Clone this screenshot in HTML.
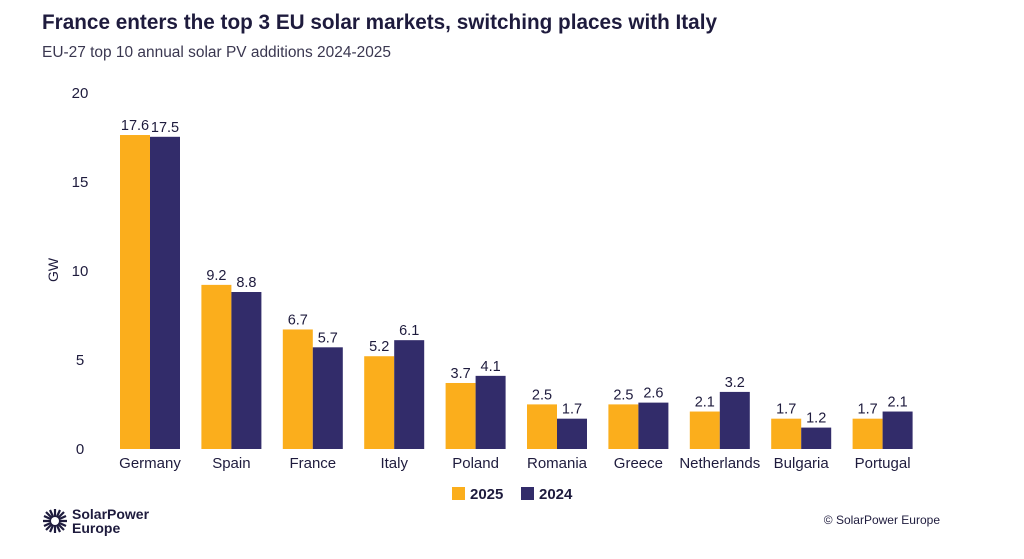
<!DOCTYPE html>
<html><head><meta charset="utf-8"><style>
body{margin:0;background:#fff;}
svg{display:block;font-family:"Liberation Sans",sans-serif;}
</style></head><body>
<svg width="1024" height="559" xmlns="http://www.w3.org/2000/svg">
<text x="42" y="29" font-size="21" font-weight="bold" fill="#1e1b3d" textLength="675" lengthAdjust="spacingAndGlyphs">France enters the top 3 EU solar markets, switching places with Italy</text>
<text x="42" y="57" font-size="15.3" fill="#3a3750" textLength="349" lengthAdjust="spacingAndGlyphs">EU-27 top 10 annual solar PV additions 2024-2025</text>
<g font-size="15" fill="#1e1b3d" text-anchor="middle">
<text x="80" y="98">20</text><text x="80" y="187">15</text><text x="80" y="276">10</text><text x="80" y="365">5</text><text x="80" y="454">0</text>
</g>
<text transform="translate(58,270) rotate(-90)" font-size="14" fill="#1e1b3d" text-anchor="middle">GW</text>
<g id="bars"></g>
<g font-size="14.5" fill="#1e1b3d" text-anchor="middle" id="lbl"></g>
<rect x="452" y="487" width="13" height="13" fill="#fbae1c"/>
<text x="470" y="499" font-size="15" font-weight="bold" fill="#1e1b3d">2025</text>
<rect x="521" y="487" width="13" height="13" fill="#322c6a"/>
<text x="539" y="499" font-size="15" font-weight="bold" fill="#1e1b3d">2024</text>
<g transform="translate(55,521)" stroke="#1e1b3d" stroke-width="2.2">
<line x1="-12" y1="0" x2="12" y2="0"/><line x1="0" y1="-12" x2="0" y2="12"/>
<line x1="-9" y1="-9" x2="9" y2="9"/><line x1="-9" y1="9" x2="9" y2="-9"/>
<line x1="-11" y1="-5" x2="11" y2="5"/><line x1="-11" y1="5" x2="11" y2="-5"/>
<line x1="-5" y1="-11" x2="5" y2="11"/><line x1="-5" y1="11" x2="5" y2="-11"/>
<circle cx="0" cy="0" r="4" fill="#fff" stroke="none"/>
</g>
<text x="72" y="519" font-size="14" font-weight="bold" fill="#1e1b3d">SolarPower</text>
<text x="72" y="533" font-size="14" font-weight="bold" fill="#1e1b3d">Europe</text>
<text x="940" y="524" font-size="12" fill="#1e1b3d" text-anchor="end">© SolarPower Europe</text>
</svg>
<script>
var d=[["Germany",17.6,17.5],["Spain",9.2,8.8],["France",6.7,5.7],["Italy",5.2,6.1],["Poland",3.7,4.1],["Romania",2.5,1.7],["Greece",2.5,2.6],["Netherlands",2.1,3.2],["Bulgaria",1.7,1.2],["Portugal",1.7,2.1]];
var ns="http://www.w3.org/2000/svg",b=document.getElementById("bars"),l=document.getElementById("lbl");
function el(p,t,a,txt){var e=document.createElementNS(ns,t);for(var k in a)e.setAttribute(k,a[k]);if(txt)e.textContent=txt;p.appendChild(e);}
d.forEach(function(r,i){var c=150+i*81.4;
[[r[1],c-30,"#fbae1c"],[r[2],c,"#322c6a"]].forEach(function(s){var h=s[0]*17.84;
el(b,"rect",{x:s[1],y:449-h,width:30,height:h,fill:s[2]});
el(l,"text",{x:s[1]+15,y:449-h-5},s[0].toFixed(1));});
el(l,"text",{x:c,y:468,"font-size":"15"},r[0]);});
</script>
</body></html>
